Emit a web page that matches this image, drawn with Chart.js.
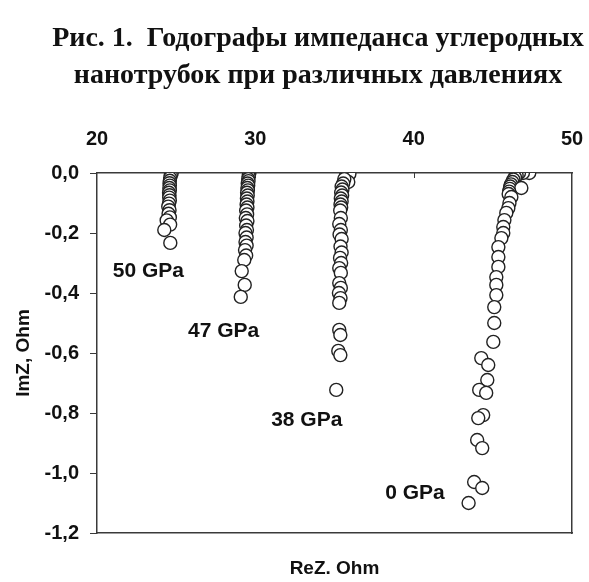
<!DOCTYPE html>
<html>
<head>
<meta charset="utf-8">
<script src="https://cdn.jsdelivr.net/npm/chart.js@4/dist/chart.umd.min.js"></script>
<style>
  html, body { margin: 0; padding: 0; background: #ffffff; }
  #wrap { width: 589px; height: 582px; }
</style>
</head>
<body>
<div id="wrap"><canvas id="c" width="589" height="582"></canvas></div>
<script>
// Impedance hodographs (Nyquist plots) of carbon nanotubes at several pressures
const titleLines = ['Рис. 1.  Годографы импеданса углеродных', 'нанотрубок при различных давлениях'];
const xTitle = 'ReZ. Ohm';
const yTitle = 'ImZ, Ohm';
const pressureLabels = ['50 GPa', '47 GPa', '38 GPa', '0 GPa'];

// 50 GPa
const reZ50 = [24.72, 24.66, 24.62, 24.60, 24.58, 24.60, 24.57, 24.60, 24.55, 24.58, 24.56, 24.60, 24.55, 24.50, 24.58, 24.52, 24.60, 24.40, 24.62, 24.25, 24.63];
const imZ50 = [0.000, -0.008, -0.017, -0.026, -0.034, -0.042, -0.050, -0.058, -0.066, -0.074, -0.082, -0.092, -0.102, -0.112, -0.124, -0.136, -0.148, -0.158, -0.172, -0.190, -0.233];

// 47 GPa
const reZ47 = [29.62, 29.60, 29.58, 29.55, 29.57, 29.52, 29.55, 29.50, 29.53, 29.48, 29.52, 29.47, 29.50, 29.45, 29.50, 29.42, 29.48, 29.40, 29.50, 29.42, 29.47, 29.38, 29.45, 29.38, 29.45, 29.35, 29.42, 29.30, 29.14, 29.33, 29.08];
const imZ47 = [0.000, -0.005, -0.012, -0.020, -0.027, -0.035, -0.042, -0.050, -0.058, -0.066, -0.075, -0.085, -0.095, -0.105, -0.115, -0.125, -0.138, -0.150, -0.160, -0.175, -0.190, -0.200, -0.215, -0.230, -0.242, -0.257, -0.275, -0.290, -0.327, -0.373, -0.413];

// 38 GPa
const reZ38 = [35.75, 35.94, 35.87, 35.62, 35.55, 35.45, 35.50, 35.42, 35.48, 35.40, 35.45, 35.38, 35.42, 35.36, 35.40, 35.30, 35.40, 35.32, 35.45, 35.38, 35.45, 35.35, 35.42, 35.30, 35.40, 35.30, 35.40, 35.28, 35.38, 35.30, 35.30, 35.37, 35.24, 35.37, 35.11];
const imZ38 = [0.000, -0.003, -0.030, -0.020, -0.035, -0.045, -0.055, -0.065, -0.075, -0.085, -0.095, -0.105, -0.115, -0.125, -0.150, -0.170, -0.190, -0.205, -0.220, -0.245, -0.265, -0.283, -0.300, -0.317, -0.333, -0.367, -0.383, -0.400, -0.417, -0.433, -0.523, -0.540, -0.593, -0.607, -0.723];

// 0 GPa
const reZ0 = [47.30, 46.90, 46.65, 46.45, 46.50, 46.40, 46.30, 46.23, 46.15, 46.10, 46.07, 46.80, 46.03, 46.00, 46.17, 46.05, 45.98, 45.85, 45.73, 45.66, 45.66, 45.54, 45.35, 45.35, 45.35, 45.22, 45.22, 45.22, 45.09, 45.09, 45.03, 44.27, 44.71, 44.65, 44.14, 44.58, 44.39, 44.08, 44.01, 44.33, 43.82, 44.33, 43.47];
const imZ0 = [0.000, 0.000, 0.000, 0.000, -0.008, -0.015, -0.022, -0.030, -0.038, -0.045, -0.053, -0.050, -0.062, -0.070, -0.080, -0.100, -0.117, -0.133, -0.157, -0.180, -0.200, -0.217, -0.247, -0.280, -0.313, -0.347, -0.373, -0.407, -0.447, -0.500, -0.563, -0.617, -0.640, -0.690, -0.723, -0.733, -0.807, -0.817, -0.890, -0.917, -1.030, -1.050, -1.100];

const series = [
  { name: pressureLabels[0], re: reZ50, im: imZ50 },
  { name: pressureLabels[1], re: reZ47, im: imZ47 },
  { name: pressureLabels[2], re: reZ38, im: imZ38 },
  { name: pressureLabels[3], re: reZ0, im: imZ0 }
];

const axisColor = '#3a3a3a';
const sansBold = (size) => ({ family: '"Liberation Sans", Arial, sans-serif', size: size, weight: 'bold' });
const commaFmt = (v) => {
  const r = Math.round(v * 10) / 10;
  return (r === 0 ? 0 : r).toFixed(1).replace('.', ',');
};
// keep the frame flush: no extra room for the end tick labels
const noEdgePadding = (s) => { s.paddingLeft = 0; s.paddingRight = 0; s.paddingTop = 0; s.paddingBottom = 0; };

// draws the two-line caption, the pressure annotations and the inner ticks of the top axis
const decorations = {
  id: 'decorations',
  beforeDatasetsDraw(chart, args, opts) {
    const { ctx, scales } = chart;
    const xs = scales.x, ys = scales.y;
    ctx.save();
    ctx.strokeStyle = axisColor;
    ctx.lineWidth = 1;
    [30, 40].forEach(v => {
      const px = Math.round(xs.getPixelForValue(v)) + 0.5;
      ctx.beginPath();
      ctx.moveTo(px, ys.top);
      ctx.lineTo(px, ys.top + 5);
      ctx.stroke();
    });
    ctx.restore();
  },
  afterDraw(chart, args, opts) {
    const { ctx, scales } = chart;
    ctx.save();
    ctx.fillStyle = '#111';
    ctx.textAlign = 'center';
    ctx.textBaseline = 'middle';
    ctx.font = 'bold 28px "Liberation Serif", "Times New Roman", serif';
    opts.title.forEach((line, i) => ctx.fillText(line, opts.titleX, opts.titleY + i * opts.titleGap));
    ctx.textAlign = 'left';
    ctx.font = 'bold 21px "Liberation Sans", Arial, sans-serif';
    opts.notes.forEach(n => {
      ctx.fillText(n.text, scales.x.getPixelForValue(n.re), scales.y.getPixelForValue(n.im));
    });
    ctx.restore();
  }
};

new Chart(document.getElementById('c'), {
  type: 'scatter',
  data: {
    datasets: series.map(s => ({
      label: s.name,
      data: s.re.map((r, i) => ({ x: r, y: s.im[i] })),
      pointRadius: 6.5,
      pointHoverRadius: 6.5,
      pointBackgroundColor: '#ffffff',
      pointBorderColor: '#222222',
      pointBorderWidth: 1.4,
      xAxisID: 'x',
      yAxisID: 'y'
    }))
  },
  options: {
    responsive: false,
    animation: false,
    events: [],
    layout: { autoPadding: false, padding: 0 },
    plugins: {
      legend: { display: false },
      tooltip: { enabled: false },
      decorations: {
        title: titleLines,
        titleX: 318,
        titleY: 39,
        titleGap: 37,
        notes: [
          { text: pressureLabels[0], re: 21.0, im: -0.327 },
          { text: pressureLabels[1], re: 25.75, im: -0.527 },
          { text: pressureLabels[2], re: 31.0, im: -0.823 },
          { text: pressureLabels[3], re: 38.2, im: -1.067 }
        ]
      }
    },
    scales: {
      x: {
        type: 'linear',
        position: 'top',
        min: 20,
        max: 50,
        ticks: { stepSize: 10, color: '#111', font: sansBold(20), padding: 22 },
        grid: { drawOnChartArea: false, drawTicks: false },
        border: { display: true, color: axisColor, width: 1.5 },
        afterFit: (s) => { s.height = 173; noEdgePadding(s); }
      },
      x2: {
        type: 'linear',
        position: 'bottom',
        min: 20,
        max: 50,
        ticks: { display: false },
        grid: { drawOnChartArea: false, drawTicks: false },
        border: { display: true, color: axisColor, width: 1.5 },
        title: { display: true, text: xTitle, color: '#111', font: sansBold(19), padding: { top: 31, bottom: 2 } },
        afterFit: (s) => { s.height = 49; noEdgePadding(s); }
      },
      y: {
        type: 'linear',
        position: 'left',
        min: -1.2,
        max: 0,
        ticks: { stepSize: 0.2, color: '#111', font: sansBold(20), padding: 11, callback: commaFmt },
        grid: { drawOnChartArea: false, drawTicks: true, tickLength: 7, color: axisColor },
        border: { display: true, color: axisColor, width: 1.5 },
        title: { display: true, text: yTitle, color: '#111', font: sansBold(19), padding: { top: 12, bottom: 4 } },
        afterFit: (s) => { s.width = 97; noEdgePadding(s); }
      },
      y2: {
        type: 'linear',
        position: 'right',
        min: -1.2,
        max: 0,
        ticks: { display: false },
        grid: { drawOnChartArea: false, drawTicks: false },
        border: { display: true, color: axisColor, width: 1.5 },
        afterFit: (s) => { s.width = 17; noEdgePadding(s); }
      }
    }
  },
  plugins: [decorations]
});
</script>
</body>
</html>
